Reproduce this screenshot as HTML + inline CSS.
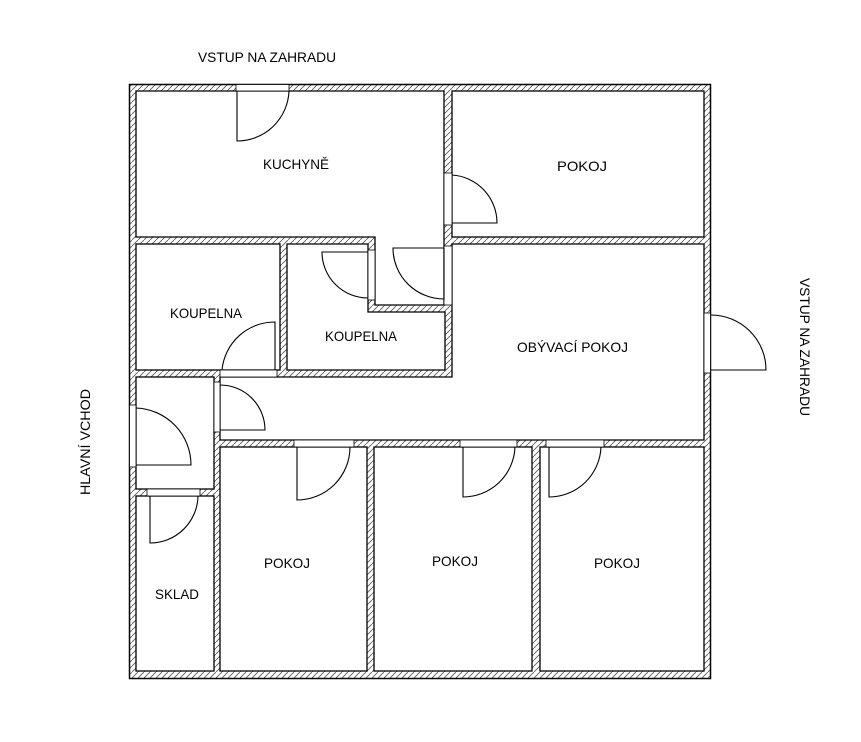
<!DOCTYPE html>
<html><head><meta charset="utf-8"><style>
html,body{margin:0;padding:0;background:#fff;}
svg{display:block;}
text{font-family:"Liberation Sans",sans-serif;font-size:14px;fill:#000;}
</style></head><body>
<svg width="861" height="742" viewBox="0 0 861 742" xmlns="http://www.w3.org/2000/svg">
<defs>
<pattern id="h" width="6" height="6" patternUnits="userSpaceOnUse">
<rect width="6" height="6" fill="#fff"/>
<path d="M-1,7 L7,-1" stroke="#555" stroke-width="0.8"/>
</pattern>
</defs>
<rect x="129.5" y="84.5" width="581" height="594" fill="url(#h)" stroke="#000" stroke-width="1.5"/>
<g fill="#fff" stroke="#000" stroke-width="1.3">
<polygon points="136,91 444,91 444,305 375,305 375,237 136,237"/>
<rect x="452" y="91" width="252" height="146"/>
<rect x="136" y="244" width="144" height="126"/>
<polygon points="287,244 368,244 368,312 445,312 445,370 287,370"/>
<polygon points="452,244 704,244 704,440 220,440 220,377 452,377"/>
<rect x="136" y="377" width="78" height="112"/>
<rect x="136" y="496" width="78" height="175"/>
<rect x="220" y="447" width="147" height="224"/>
<rect x="374" y="447" width="158" height="224"/>
<rect x="540" y="447" width="164" height="224"/>
</g>
<g fill="#fff" stroke="#000" stroke-width="0.8">
<rect x="236" y="84.5" width="53" height="6.5"/>
<rect x="444" y="173" width="8" height="52"/>
<rect x="444" y="246" width="8" height="59"/>
<rect x="368" y="250" width="7" height="50"/>
<rect x="220" y="370" width="57" height="7"/>
<rect x="214" y="382" width="6" height="50"/>
<rect x="129.5" y="405" width="6.5" height="62"/>
<rect x="147" y="489" width="53" height="7"/>
<rect x="294" y="440" width="60" height="7"/>
<rect x="460" y="440" width="57" height="7"/>
<rect x="546" y="440" width="58" height="7"/>
<rect x="704" y="313" width="6.5" height="60"/>
</g>
<g fill="none" stroke="#000" stroke-width="1.1">
<path d="M237,91 V141 A52,52 0 0 0 289,91"/>
<path d="M452,223 H497 A48,48 0 0 0 452,175"/>
<path d="M444,248 V299 A51,51 0 0 1 393,248 H444"/>
<path d="M368,252 H322 A46,46 0 0 0 368,298"/>
<path d="M275,370 V322 A53,53 0 0 0 222,370"/>
<path d="M220,430 H265 A45,45 0 0 0 220,385"/>
<path d="M136,465 H191 A57,57 0 0 0 136,408"/>
<path d="M150,496 V543 A48,48 0 0 0 198,496"/>
<path d="M297,447 V500 A53,53 0 0 0 350,447"/>
<path d="M463,447 V497 A52,52 0 0 0 515,447"/>
<path d="M549,447 V497 A52,52 0 0 0 601,447"/>
<path d="M711,370 H766 A55,55 0 0 0 711,315"/>
</g>
<text x="198" y="62" textLength="138" lengthAdjust="spacingAndGlyphs">VSTUP NA ZAHRADU</text>
<text x="263" y="169" textLength="66" lengthAdjust="spacingAndGlyphs">KUCHYNĚ</text>
<text x="557" y="171" textLength="50" lengthAdjust="spacingAndGlyphs">POKOJ</text>
<text x="170" y="318" textLength="72" lengthAdjust="spacingAndGlyphs">KOUPELNA</text>
<text x="325" y="341" textLength="72" lengthAdjust="spacingAndGlyphs">KOUPELNA</text>
<text x="517" y="352" textLength="111" lengthAdjust="spacingAndGlyphs">OBÝVACÍ POKOJ</text>
<text x="264" y="568" textLength="46" lengthAdjust="spacingAndGlyphs">POKOJ</text>
<text x="432" y="566" textLength="46" lengthAdjust="spacingAndGlyphs">POKOJ</text>
<text x="594" y="568" textLength="46" lengthAdjust="spacingAndGlyphs">POKOJ</text>
<text x="155" y="599" textLength="44" lengthAdjust="spacingAndGlyphs">SKLAD</text>
<text transform="translate(800,278) rotate(90)" textLength="138" lengthAdjust="spacingAndGlyphs">VSTUP NA ZAHRADU</text>
<text transform="translate(90,495) rotate(-90)" textLength="106" lengthAdjust="spacingAndGlyphs">HLAVNÍ VCHOD</text>
</svg>
</body></html>
